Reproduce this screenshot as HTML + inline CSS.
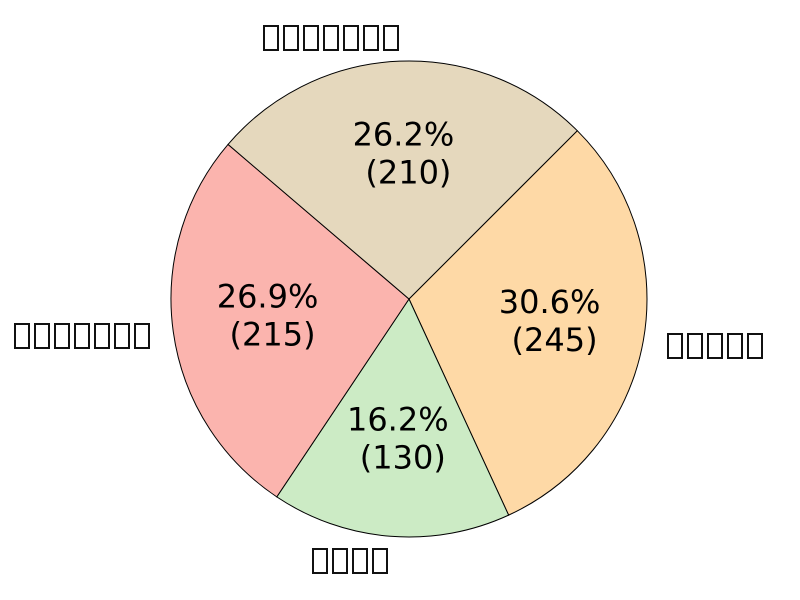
<!DOCTYPE html>
<html><head><meta charset="utf-8"><style>
body{margin:0;background:#fff;width:800px;height:600px;overflow:hidden;font-family:"DejaVu Sans","Liberation Sans","Noto Sans CJK SC",sans-serif}
.lbl{position:absolute;display:flex;gap:4px;transform:translate(-50%,-50%)}
.lbl span{display:inline-block;width:12px;height:22px;border:2px solid #111;color:transparent;font-size:1px;overflow:hidden}
</style></head><body>
<svg id="chart" width="800" height="600" style="position:absolute;left:0;top:0"></svg>
<div id="labels"></div>
<script>
const categories=["cat-a","cat-b","cat-c","cat-d"];
const values=[245,130,215,210];
const boxCounts=[5,4,7,7];
const colors=["#fed9a6","#ccebc5","#fbb4ae","#e5d8bd"];
const cx=409,cy=299,R=238,start=45;
const svg=document.getElementById('chart');
const NS="http://www.w3.org/2000/svg";
const total=values.reduce((a,b)=>a+b,0);
function fmt1(x){const y=x*10;const f=Math.floor(y);let r;const d=y-f;
  if(Math.abs(d-0.5)<1e-9){r=(f%2===0)?f:f+1;}else r=Math.round(y);return (r/10).toFixed(1);}
let a0=start;
const pt=(ang,r)=>[cx+r*Math.cos(ang*Math.PI/180),cy-r*Math.sin(ang*Math.PI/180)];
values.forEach((v,i)=>{
  const sweep=v/total*360;const a1=a0-sweep;
  const p0=pt(a0,R),p1=pt(a1,R);
  const path=document.createElementNS(NS,'path');
  path.setAttribute('d',`M${cx},${cy}L${p0[0]},${p0[1]}A${R},${R} 0 ${sweep>180?1:0} 1 ${p1[0]},${p1[1]}Z`);
  path.setAttribute('fill',colors[i]);path.setAttribute('stroke','#000');path.setAttribute('stroke-width','1');
  
  
  svg.appendChild(path);
  const mid=(a0+a1)/2;
  const tp=pt(mid,0.6*R);
  const t=document.createElementNS(NS,'text');
  t.setAttribute('x',tp[0]);t.setAttribute('y',tp[1]-11);
  t.setAttribute('text-anchor','middle');t.setAttribute('font-size','32');t.setAttribute('font-family','DejaVu Sans, sans-serif');
  
  
  const s1=document.createElementNS(NS,'tspan');s1.setAttribute('x',tp[0]);s1.textContent=fmt1(v/total*100)+'%';
  const s2=document.createElementNS(NS,'tspan');s2.setAttribute('x',tp[0]+5);s2.setAttribute('dy','38');s2.textContent='('+v+')';
  t.appendChild(s1);t.appendChild(s2);svg.appendChild(t);
  const lp=pt(mid,1.1*R);
  const d=document.createElement('div');d.className='lbl';
  
  
  const sgn=Math.cos(mid*Math.PI/180)>0?1:-1;
  d.style.left=(lp[0]+sgn*(boxCounts[i]*20-4)/2)+'px';d.style.top=(lp[1]+1)+'px';
  for(let k=0;k<boxCounts[i];k++){const s=document.createElement('span');s.textContent='□';d.appendChild(s);}
  document.getElementById('labels').appendChild(d);
  a0=a1;
});
</script>
</body></html>
